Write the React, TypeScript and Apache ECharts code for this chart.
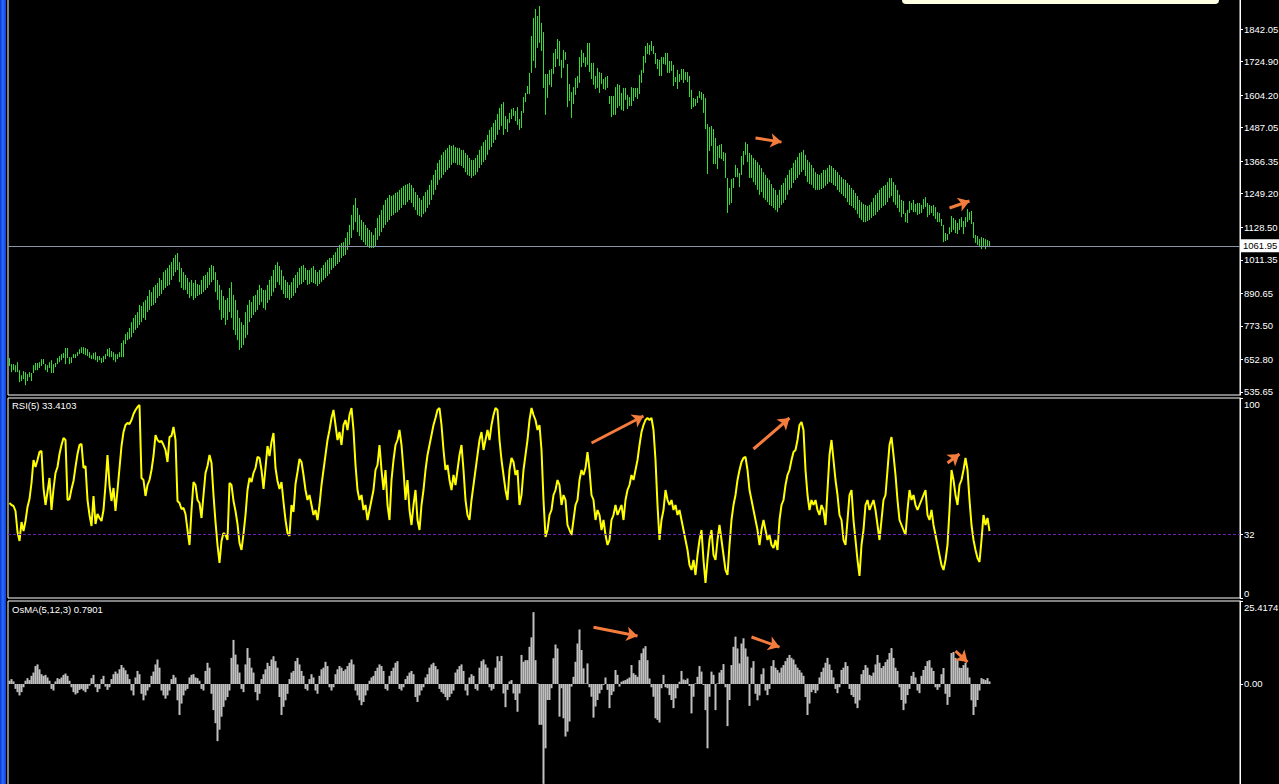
import React, { useEffect, useRef } from "react";
import * as echarts from "echarts";

// ---------- data ----------
const HIGH = [
658,636,636,632,643,614,596,611,607,600,
607,604,632,640,640,643,654,654,636,632,
643,650,636,640,658,665,672,676,694,694,
661,661,672,672,679,690,697,697,694,690,
679,668,676,679,665,665,658,665,672,690,
694,683,679,672,672,679,712,722,744,751,
766,787,802,813,823,849,845,859,867,881,
903,895,913,921,928,946,939,967,975,982,
993,1003,1018,1029,1036,1003,982,967,957,946,
931,939,928,939,924,921,939,953,957,967,
982,993,989,967,939,921,903,881,867,874,
910,931,885,867,831,802,787,777,823,849,
867,859,881,885,903,921,910,903,903,921,
939,953,975,993,1003,989,975,953,939,931,
921,931,946,957,967,982,989,993,982,975,
975,982,989,975,967,975,982,993,1003,1011,
1018,1018,1029,1039,1054,1065,1072,1075,1090,1111,
1137,1173,1209,1234,1198,1173,1155,1147,1137,1126,
1119,1111,1101,1126,1162,1173,1191,1209,1227,1234,
1245,1241,1245,1252,1255,1263,1270,1277,1281,1284,
1288,1281,1270,1255,1245,1234,1227,1241,1255,1263,
1281,1299,1317,1335,1360,1371,1389,1399,1407,1414,
1425,1421,1425,1417,1414,1414,1407,1407,1396,1389,
1378,1371,1371,1378,1389,1407,1421,1435,1443,1461,
1479,1489,1504,1515,1536,1558,1572,1579,1529,1518,
1540,1554,1558,1547,1561,1518,1547,1597,1612,1637,
1684,1817,1882,1914,1889,1925,1864,1831,1680,1680,
1695,1698,1756,1770,1806,1799,1731,1767,1759,1716,
1644,1615,1633,1666,1673,1741,1767,1756,1741,1792,
1792,1720,1720,1673,1702,1687,1684,1662,1669,1673,
1601,1601,1601,1633,1644,1641,1612,1630,1630,1605,
1597,1633,1630,1630,1630,1677,1695,1745,1781,1792,
1785,1799,1781,1756,1734,1731,1741,1741,1756,1756,
1727,1727,1713,1669,1695,1680,1698,1698,1687,1687,
1673,1623,1594,1590,1601,1619,1615,1608,1594,1500,
1489,1493,1482,1450,1421,1425,1428,1399,1396,1306,
1270,1302,1306,1353,1342,1324,1385,1403,1435,1428,
1396,1389,1378,1371,1363,1353,1342,1327,1317,1306,
1299,1284,1270,1263,1245,1263,1281,1288,1306,1317,
1335,1342,1360,1371,1381,1396,1399,1407,1389,1371,
1363,1353,1342,1327,1320,1317,1324,1335,1335,1342,
1353,1349,1342,1335,1327,1317,1309,1302,1299,1288,
1281,1270,1263,1252,1241,1227,1219,1212,1209,1205,
1209,1219,1234,1245,1252,1263,1270,1277,1281,1291,
1306,1306,1291,1281,1263,1245,1227,1223,1180,1191,
1223,1216,1227,1212,1216,1216,1209,1230,1237,1216,
1209,1205,1209,1201,1183,1180,1158,1137,1108,1104,
1129,1169,1162,1155,1144,1158,1165,1151,1165,1194,
1183,1187,1147,1101,1097,1086,1093,1090,1086,1083,1079
];

const LOW = [
629,607,614,607,607,571,575,582,560,575,
589,575,604,614,614,622,629,636,614,607,
622,604,604,625,636,643,650,658,636,658,
636,640,658,658,665,672,676,672,668,665,
658,654,654,650,643,650,640,643,654,665,
661,661,650,643,654,661,661,661,708,722,
726,733,748,759,766,777,787,802,795,823,
831,845,849,856,874,881,888,903,910,917,
921,939,953,967,975,931,910,903,903,888,
874,881,867,874,881,885,888,895,903,910,
921,931,939,895,867,831,795,802,777,795,
823,802,759,741,722,687,694,705,730,741,
787,802,813,823,831,849,859,838,831,856,
867,881,895,910,931,921,903,888,874,874,
867,874,881,892,910,921,924,931,939,921,
924,931,928,924,917,924,931,939,946,953,
960,975,982,989,996,1003,1018,1025,1029,1047,
1065,1090,1119,1147,1111,1097,1083,1075,1065,1061,
1054,1054,1054,1061,1083,1097,1111,1126,1137,1147,
1155,1169,1173,1180,1183,1191,1198,1209,1209,1219,
1227,1216,1201,1191,1173,1169,1165,1176,1183,1198,
1209,1227,1245,1263,1281,1299,1306,1317,1327,1335,
1342,1353,1360,1360,1353,1353,1349,1342,1327,1317,
1313,1306,1313,1317,1327,1342,1353,1363,1371,1389,
1407,1417,1432,1443,1461,1479,1493,1461,1482,1471,
1504,1518,1529,1511,1497,1479,1486,1540,1579,1608,
1608,1684,1727,1702,1774,1792,1763,1630,1533,1594,
1641,1633,1680,1705,1734,1709,1666,1702,1731,1561,
1583,1522,1572,1605,1630,1648,1705,1720,1705,1713,
1687,1662,1641,1626,1630,1612,1644,1626,1623,1630,
1572,1525,1533,1533,1558,1565,1551,1547,1587,1554,
1565,1565,1583,1597,1590,1608,1648,1684,1720,1752,
1749,1763,1752,1716,1698,1673,1673,1716,1713,1684,
1684,1691,1637,1651,1626,1651,1659,1648,1659,1651,
1597,1554,1561,1565,1576,1594,1587,1540,1482,1320,
1403,1421,1356,1356,1338,1378,1374,1367,1306,1180,
1209,1216,1270,1309,1309,1273,1317,1353,1389,1363,
1306,1306,1291,1281,1263,1245,1255,1234,1227,1219,
1209,1205,1198,1191,1183,1198,1209,1216,1227,1245,
1263,1270,1288,1299,1306,1317,1327,1335,1313,1291,
1284,1281,1270,1263,1263,1263,1266,1270,1277,1284,
1291,1288,1281,1277,1263,1255,1248,1241,1234,1219,
1209,1205,1198,1191,1176,1162,1155,1147,1147,1151,
1155,1162,1169,1173,1183,1191,1198,1205,1209,1219,
1234,1241,1219,1209,1198,1183,1165,1176,1147,1144,
1180,1191,1183,1183,1173,1176,1180,1194,1201,1165,
1173,1180,1169,1158,1147,1147,1133,1075,1079,1083,
1104,1111,1119,1108,1104,1119,1129,1104,1129,1147,
1155,1140,1090,1072,1065,1057,1050,1057,1050,1061,1057
];

const RSI = [
47.5,46.5,46,43.5,33,28.5,38,33.5,38.5,45.5,
49.5,57.5,69,65.5,69,73,73.5,55,46.5,53,
60,44,54.5,62.5,65.5,72,76.5,80,79,49,
49.5,54.5,58.5,65.5,72,76.5,77,65,66,49,
41.5,36,51,37,42,40,38.5,44,56.5,71.5,
56.5,48.5,55,43.5,54,65,76,83,86.5,87.5,
87,89,92,94,95.5,96.5,60,59,51,56.5,
59,64,71,81.5,79,78,78.5,76.5,74,68,
80.5,81,85.5,79,48.5,47.5,44.5,45,42,34,
26.5,44,58,56.5,49,47.5,40,51.5,62.5,66,
71.5,67.5,51.5,38,26.5,17.5,28.5,32.5,31.5,29,
57.5,56.5,48.5,43.5,37,27.5,24,32,41.5,54,
60,58,62.5,65,70.5,70,64,54.5,65,76,
71,78,82.5,65,58.5,54.5,58,48,39,32.5,
31,46.5,43,57,63,69.5,68,61.5,54,49,
51.5,46.5,41.5,44,39,46.5,56.5,64,71.5,79,
84,90,94,86.5,79,83,76.5,86.5,89,84,
91.5,95,84,66.5,54,49,51.5,44,46.5,39,
44,49,54,64,66.5,76.5,64,54,64,46.5,
39,59,69,76.5,79,84,76.5,64,49,59,
44,36.5,46.5,54,39,34,46.5,54,64,71.5,
76.5,81.5,86.5,90,94,95,86.5,74,64,66.5,
59,54,61.5,56.5,64,71.5,76.5,64,49,41.5,
39,49,56.5,64,71.5,79,83,74,79,84,
79,86.5,91.5,95,94,79,69,61.5,54,49,
64,70,68,61.5,64,46.5,51.5,64,71.5,79,
89,95,91.5,89,84,86.5,74,49,30.5,34,
41.5,44,51.5,54,59,56.5,46.5,51.5,49,36.5,
34,31.5,39,46.5,49,59,64,61.5,65,73,
64,51.5,49,39,44,41.5,34,39,31.5,26.5,
29,39,41.5,46.5,41.5,44,46.5,39,49,54,
56.5,61.5,59,64,69,76.5,83,86.5,89,90,
89,90,84,69,46.5,29,39,44,54,49,
46.5,49,44,46.5,41.5,44,39,34,29,24,
16.5,14,19,11.5,21.5,29,34,19,7.5,19,
29,34,21.5,19,29,36.5,29,21.5,14,11.5,
26.5,39,46.5,51.5,59,64,68,70,70.5,64,
54,49,44,39,34,26.5,34,39,34,29,
31.5,26.5,25,29,24,39,46.5,49,56.5,61.5,
64,69,73,74,79,86.5,88,84,64,51.5,
44,49,46.5,49,44,41.5,46.5,44,36.5,54,
71.5,79,69,59,51.5,41.5,39,29,26.5,39,
51.5,54,39,29,19,11,26.5,34,46.5,49,
44,46.5,49,44,36.5,29,39,49,51.5,64,
76.5,80.5,71.5,61.5,49,39,36.5,34,31.5,44,
54,49,51.5,46.5,44,46.5,49,51.5,54,41.5,
39,44,36.5,31.5,26.5,21.5,16.5,14,19,26.5,
44,64,59,51.5,46.5,56.5,59,64,70,64,
49,36.5,29,24,20,18,29,41.5,36.5,40,33.41
];

const OSMA = [
1.0,1.5,0.8,-1.5,-2.5,-3.5,-2.5,-1.0,1.0,1.8,
1.2,2.5,3.5,5.5,6.0,4.5,3.0,2.5,2.8,2.0,
1.0,-1.5,-2.0,0.8,1.8,1.5,2.0,2.8,3.2,2.5,
1.0,-1.0,-2.5,-3.2,-2.8,-1.8,-1.5,-2.0,-2.5,-1.5,
-0.5,1.8,2.8,-1.0,-2.5,-1.5,1.5,2.5,-0.8,-1.8,
-1.0,1.5,3.0,3.8,3.2,4.5,5.8,5.0,4.2,3.0,
1.5,-2.0,-3.5,2.0,4.0,3.0,-3.0,-5.0,-3.5,-2.0,
-1.0,2.5,3.8,6.0,7.5,5.0,-2.0,-3.5,-4.5,-3.5,
-2.0,1.5,2.8,2.0,-5.0,-9.5,-6.0,-3.5,-2.0,-1.5,
2.0,2.8,3.0,2.0,1.8,1.0,-1.5,-2.0,4.0,6.5,
5.0,-3.0,-8.0,-12.0,-17.5,-14.0,-10.0,-7.0,-5.0,-4.0,
-2.0,8.0,13.5,9.0,6.0,3.5,-1.5,-2.5,6.0,11.0,
8.0,5.0,3.5,-2.5,-5.0,-3.0,1.5,3.0,4.5,6.5,
5.5,7.5,8.5,7.0,5.0,-4.0,-9.5,-7.0,-5.0,-3.0,
1.5,3.5,4.0,7.0,8.0,6.0,4.0,2.5,-1.5,-2.0,
1.5,3.0,2.0,-2.0,-3.0,2.5,4.5,5.0,6.8,5.5,
-1.0,-2.0,-1.0,3.0,4.5,5.5,5.0,4.0,4.5,5.5,
6.5,7.5,6.0,-2.0,-3.5,-5.0,-6.5,-5.5,-3.5,-2.0,
1.0,2.0,2.5,4.0,5.0,6.0,5.5,4.0,-1.5,-2.0,
2.5,4.0,5.0,6.5,7.0,-1.5,-2.0,-1.0,1.5,2.5,
3.5,4.0,3.0,-4.0,-5.5,-3.5,-2.0,-1.0,2.0,3.0,
5.0,6.0,6.5,5.5,4.5,-1.5,-2.5,-3.0,-4.0,-5.0,
-4.0,-3.0,-2.0,3.5,4.5,5.5,6.0,4.0,-2.0,-3.5,
2.0,3.0,2.5,-1.5,-2.0,5.0,7.0,7.5,6.0,5.0,
-1.0,-2.0,-1.5,5.0,8.5,7.0,8.6,-2.9,-7.1,-1.8,
0.8,1.2,-2.9,-4.9,-8.5,-2.9,8.9,6.8,7.3,7.3,
11.4,14.3,22.0,7.3,0.2,-12.5,-12.5,-30.6,-19.7,-4.9,
-4.9,-1.3,7.9,12.1,10.9,-10.0,-1.3,-10.5,-16.1,-14.6,
-11.5,-0.8,2.2,6.8,12.4,16.7,10.4,4.8,0.2,6.3,
-1.0,-3.9,-10.3,-6.9,-4.9,-2.9,-1.8,-0.3,2.0,-1.8,
-7.4,-3.4,-2.3,4.3,2.8,-0.8,0.7,1.0,1.2,1.6,
2.0,5.8,3.3,2.8,2.2,7.3,9.4,10.9,11.6,7.3,
1.7,-1.0,-3.9,-10.5,-11.0,-11.8,-1.3,2.8,-1.0,-1.3,
-3.4,-4.9,-7.4,-4.4,-1.3,0.7,4.0,1.4,1.2,1.7,
-0.6,-9.0,-3.9,0.2,2.2,5.5,3.8,-0.3,-8.0,-19.7,
-3.9,3.8,2.8,-8.0,0.2,3.5,4.3,6.1,-1.0,-12.9,
-4.9,5.8,11.4,14.5,10.9,6.3,12.4,14.0,10.9,8.4,
-6.7,5.0,7.0,-3.0,-5.0,-3.5,3.0,4.8,-2.0,-3.4,
-1.5,5.5,7.3,5.0,4.3,3.5,5.0,5.8,7.0,8.0,
8.9,8.0,7.5,6.0,5.0,4.3,3.5,2.5,-4.0,-9.5,
-6.0,-2.5,-1.8,-2.8,-2.0,2.0,3.7,5.0,6.5,8.0,
6.0,4.3,2.0,-1.5,-2.8,-1.0,4.3,5.0,6.7,5.5,
-1.5,-3.4,-4.0,-6.0,-7.4,-5.0,3.0,4.3,5.8,5.0,
2.8,2.5,3.5,6.0,8.9,6.5,4.9,5.5,6.7,7.5,
9.5,11.0,8.0,5.0,4.0,-1.0,-4.9,-8.0,-6.0,-3.4,
-1.5,2.5,3.7,2.0,-2.0,-2.8,2.5,4.3,5.5,7.0,
7.3,5.0,4.0,-1.0,-1.8,-1.0,3.0,4.9,-3.0,-6.4,
-4.0,9.5,9.8,8.0,7.3,5.0,4.9,5.8,6.5,5.0,
2.0,-5.0,-9.5,-7.0,-4.9,-2.0,1.8,1.5,1.2,1.8,0.79
];

const PRICE_TICKS = [535.65, 652.8, 773.5, 890.65, 1011.35, 1128.5, 1249.2, 1366.35, 1487.05, 1604.2, 1724.9, 1842.05];
const LAST_PRICE = 1061.95;
const RSI_TICKS = [0, 32, 100];
const RSI_LEVEL = 32;
const OSMA_TICKS = [0, 25.4174];
const RSI_TITLE = "RSI(5) 33.4103";
const OSMA_TITLE = "OsMA(5,12,3) 0.7901";

// annotation arrows: [barFrom, valueFrom, barTo, valueTo]
const PRICE_ARROWS = [[373, 1450, 386, 1435], [470, 1198, 480, 1223]];
const RSI_ARROWS = [[291, 77.5, 317, 91], [372, 74.5, 390, 90], [469, 67.5, 475, 72]];
const OSMA_ARROWS = [[292, 17.4, 314, 14.7], [371, 14.4, 385, 11.3], [473, 10.1, 479, 6.7]];

// ---------- style / layout ----------
const FONT = "'Liberation Sans', Arial, sans-serif";
const FS = 9.5;
const GREEN = "#33dd33";
const ARROW = "#f47c3c";
const X_MIN = -0.75;
const X_MAX = 615.25;

function arrowSeries(arrows: number[][], idx: number) {
  return {
    type: "lines",
    coordinateSystem: "cartesian2d",
    xAxisIndex: idx,
    yAxisIndex: idx,
    silent: true,
    z: 10,
    symbol: ["none", "arrow"],
    symbolSize: [9, 11],
    lineStyle: { color: ARROW, width: 3, opacity: 1, curveness: 0 },
    data: arrows.map((a) => ({ coords: [[a[0], a[1]], [a[2], a[3]]] })),
  };
}

export default function App() {
  const ref = useRef<HTMLDivElement>(null);

  useEffect(() => {
    document.body.style.margin = "0";
    document.body.style.background = "#000";
    if (!ref.current) return;
    const chart = echarts.init(ref.current, null, { renderer: "svg", width: 1279, height: 784 });

    const axisText = { color: "#fff", fontSize: FS, fontFamily: FONT };
    const axisLine = { show: true, onZero: false, lineStyle: { color: "#fff" } };
    const gridBase = { left: 8, width: 1232, show: true, borderColor: "#fff", borderWidth: 1, backgroundColor: "#000", outerBoundsMode: "none", containLabel: false };

    const option: any = {
      animation: false,
      backgroundColor: "#000",
      title: [
        { text: RSI_TITLE, left: 12, top: 400, padding: 0, textStyle: { ...axisText, fontWeight: "normal" } },
        { text: OSMA_TITLE, left: 12, top: 604, padding: 0, textStyle: { ...axisText, fontWeight: "normal" } },
      ],
      grid: [
        { ...gridBase, top: -3, height: 398 },
        { ...gridBase, top: 398, height: 200 },
        { ...gridBase, top: 601, height: 185 },
      ],
      xAxis: [0, 1, 2].map((g) => ({ gridIndex: g, type: "value", min: X_MIN, max: X_MAX, show: false })),
      yAxis: [
        {
          gridIndex: 0, type: "value", position: "right", min: 524.85, max: 1957.26,
          axisLine,
          axisTick: { show: true, length: 3, lineStyle: { color: "#fff" }, customValues: PRICE_TICKS },
          axisLabel: { ...axisText, margin: 4, customValues: PRICE_TICKS, formatter: (v: number) => v.toFixed(2) },
          splitLine: { show: false },
        },
        {
          gridIndex: 1, type: "value", position: "right", min: 0, max: 100,
          axisLine,
          axisTick: { show: true, length: 3, lineStyle: { color: "#fff" }, customValues: RSI_TICKS },
          axisLabel: {
            ...axisText, margin: 4, customValues: RSI_TICKS,
            formatter: (v: number) => (v === 100 ? "{t|100}" : v === 0 ? "{b|0}" : String(v)),
            rich: { t: { ...axisText, padding: [12, 0, 0, 0] }, b: { ...axisText, padding: [0, 0, 10, 0] } },
          },
          splitLine: { show: false },
        },
        {
          gridIndex: 2, type: "value", position: "right", min: -31.24, max: 25.4174,
          axisLine,
          axisTick: { show: true, length: 3, lineStyle: { color: "#fff" }, customValues: OSMA_TICKS },
          axisLabel: {
            ...axisText, margin: 4, customValues: OSMA_TICKS,
            formatter: (v: number) => (v === 0 ? "0.00" : "{t|" + String(v) + "}"),
            rich: { t: { ...axisText, padding: [12, 0, 0, 0] } },
          },
          splitLine: { show: false },
        },
      ],
      series: [
        {
          type: "custom",
          xAxisIndex: 0,
          yAxisIndex: 0,
          silent: true,
          data: HIGH.map((h, i) => [i, h, LOW[i]]),
          encode: { x: 0, y: [1, 2] },
          renderItem: (_p: any, api: any) => {
            const x = api.value(0);
            const a = api.coord([x, api.value(1)]);
            const b = api.coord([x, api.value(2)]);
            return {
              type: "line",
              shape: { x1: a[0], y1: a[1], x2: b[0], y2: b[1] },
              style: { stroke: GREEN, lineWidth: 1 },
            };
          },
          markLine: {
            silent: true,
            symbol: "none",
            lineStyle: { color: "#8a96a8", width: 1, type: "solid" },
            label: {
              show: true, position: "end", distance: 1, formatter: LAST_PRICE.toFixed(2),
              color: "#000", backgroundColor: "#fff", padding: [2, 2, 1, 2], fontSize: FS, fontFamily: FONT,
            },
            data: [{ yAxis: LAST_PRICE }],
          },
        },
        arrowSeries(PRICE_ARROWS, 0),
        {
          type: "line",
          xAxisIndex: 1,
          yAxisIndex: 1,
          silent: true,
          showSymbol: false,
          symbol: "none",
          data: RSI.map((v, i) => [i, v]),
          lineStyle: { color: "#ffff00", width: 2 },
          markLine: {
            silent: true,
            symbol: "none",
            label: { show: false },
            lineStyle: { color: "#6a1fb0", width: 1, type: [3, 2] },
            data: [{ yAxis: RSI_LEVEL }],
          },
        },
        arrowSeries(RSI_ARROWS, 1),
        {
          type: "bar",
          xAxisIndex: 2,
          yAxisIndex: 2,
          silent: true,
          barWidth: 2,
          data: OSMA.map((v, i) => [i, v]),
          itemStyle: { color: "#c0c0c0" },
        },
        arrowSeries(OSMA_ARROWS, 2),
      ],
      graphic: [
        {
          type: "rect", left: 0, top: 0, silent: true,
          shape: { x: 0, y: 0, width: 6, height: 784 },
          style: {
            fill: new echarts.graphic.LinearGradient(0, 0, 1, 0, [
              { offset: 0, color: "#0b35c8" },
              { offset: 0.45, color: "#2a6cff" },
              { offset: 1, color: "#0c40d8" },
            ]),
          },
        },
        {
          type: "rect", silent: true, z: 100,
          shape: { x: 902, y: -10, width: 317, height: 14, r: 4 },
          style: { fill: "#ffffe1" },
        },
      ],
    };

    chart.setOption(option);
    return () => chart.dispose();
  }, []);

  return <div ref={ref} style={{ width: 1279, height: 784, background: "#000" }} />;
}
